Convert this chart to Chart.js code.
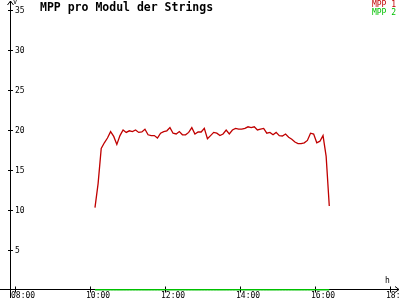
<!DOCTYPE html>
<html>
<head>
<meta charset="utf-8">
<script src="https://cdn.jsdelivr.net/npm/chart.js@4"></script>
<style>
  html, body { margin: 0; padding: 0; background: #fff; }
  #wrap { width: 400px; height: 300px; }
</style>
</head>
<body>
<div id="wrap"><canvas id="chart"></canvas></div>
<script>
// samples, every 5 minutes
const times = [
  '10:08','10:13','10:18','10:23','10:28','10:33','10:38','10:43','10:48','10:53','10:58',
  '11:03','11:08','11:13','11:18','11:23','11:28','11:33','11:38','11:43','11:48','11:53','11:58',
  '12:03','12:08','12:13','12:18','12:23','12:28','12:33','12:38','12:43','12:48','12:53','12:58',
  '13:03','13:08','13:13','13:18','13:23','13:28','13:33','13:38','13:43','13:48','13:53','13:58',
  '14:03','14:08','14:13','14:18','14:23','14:28','14:33','14:38','14:43','14:48','14:53','14:58',
  '15:03','15:08','15:13','15:18','15:23','15:28','15:33','15:38','15:43','15:48','15:53','15:58',
  '16:03','16:08','16:13','16:18','16:23'
];
const mpp1 = [
  10.3, 13.3, 17.7, 18.4, 19.0, 19.8, 19.2, 18.2, 19.3, 20.0, 19.7,
  19.9, 19.8, 20.0, 19.7, 19.75, 20.1, 19.4, 19.3, 19.3, 19.0, 19.6, 19.8,
  19.9, 20.3, 19.6, 19.5, 19.8, 19.4, 19.4, 19.7, 20.3, 19.5, 19.75, 19.75,
  20.2, 18.9, 19.3, 19.7, 19.6, 19.3, 19.5, 20.0, 19.5, 20.0, 20.2, 20.1,
  20.1, 20.2, 20.4, 20.3, 20.4, 20.0, 20.1, 20.2, 19.6, 19.7, 19.4, 19.7,
  19.3, 19.25, 19.5, 19.1, 18.85, 18.5, 18.3, 18.3, 18.4, 18.7, 19.6, 19.5,
  18.4, 18.6, 19.3, 16.7, 10.5
];
const mpp2 = [
  0, 0, 0, 0, 0, 0, 0, 0, 0, 0, 0,
  0, 0, 0, 0, 0, 0, 0, 0, 0, 0, 0, 0,
  0, 0, 0, 0, 0, 0, 0, 0, 0, 0, 0, 0,
  0, 0, 0, 0, 0, 0, 0, 0, 0, 0, 0, 0,
  0, 0, 0, 0, 0, 0, 0, 0, 0, 0, 0, 0,
  0, 0, 0, 0, 0, 0, 0, 0, 0, 0, 0, 0,
  0, 0, 0, 0, 0
];
const xTicks = ['08:00', '10:00', '12:00', '14:00', '16:00', '18:00'];
const yTicks = [5, 10, 15, 20, 25, 30, 35];
const seriesNames = ['MPP 1', 'MPP 2'];
const seriesColors = ['#c00000', '#00c000'];

function toMin(s) {
  const p = s.split(':');
  return Number(p[0]) * 60 + Number(p[1]);
}
function pts(vals) {
  return vals.map((v, i) => ({ x: toMin(times[i]), y: v }));
}

const axesPlugin = {
  id: 'axes',
  afterDatasetsDraw(chart) {
    const ctx = chart.ctx;
    const xs = chart.scales.x, ys = chart.scales.y;
    const ax = Math.round(xs.left) + 0.5;
    const ay = Math.round(ys.getPixelForValue(0)) - 0.5;
    ctx.save();
    ctx.strokeStyle = '#000';
    ctx.fillStyle = '#000';
    ctx.lineWidth = 1;
    ctx.beginPath();
    // y axis + arrow
    ctx.moveTo(ax, 298); ctx.lineTo(ax, 1);
    ctx.moveTo(ax - 3, 5); ctx.lineTo(ax, 1); ctx.lineTo(ax + 3, 5);
    // x axis + arrow
    ctx.moveTo(0, ay); ctx.lineTo(399, ay);
    ctx.moveTo(395, ay - 3); ctx.lineTo(399, ay); ctx.lineTo(395, ay + 3);
    yTicks.forEach(v => {
      const py = Math.round(ys.getPixelForValue(v)) + 0.5;
      ctx.moveTo(ax - 2.5, py); ctx.lineTo(ax + 2.5, py);
    });
    xTicks.forEach(t => {
      const px = Math.round(xs.getPixelForValue(toMin(t))) + 0.5;
      ctx.moveTo(px, ay - 3); ctx.lineTo(px, ay + 3);
    });
    ctx.stroke();

    // redraw MPP 2 over the axis
    ctx.strokeStyle = seriesColors[1];
    ctx.beginPath();
    ctx.moveTo(xs.getPixelForValue(toMin(times[0])), ay);
    ctx.lineTo(xs.getPixelForValue(toMin(times[times.length - 1])), ay);
    ctx.stroke();

    ctx.font = '8px "DejaVu Sans Mono"';
    ctx.textBaseline = 'middle';
    ctx.textAlign = 'left';
    yTicks.forEach(v => {
      ctx.fillText(String(v), ax + 4.5, Math.round(ys.getPixelForValue(v)) + 0.5);
    });
    ctx.textBaseline = 'top';
    xTicks.forEach(t => {
      ctx.fillText(t, Math.round(xs.getPixelForValue(toMin(t))) - 4, 292);
    });
    ctx.font = '7px "DejaVu Sans Mono"';
    ctx.fillText('V', 13, -1);
    ctx.font = '8px "DejaVu Sans Mono"';
    ctx.fillText('h', 385, 277);

    // title
    ctx.font = 'bold 11.5px "DejaVu Sans Mono"';
    ctx.fillText('MPP pro Modul der Strings', 40, 2);

    // legend
    ctx.font = '8px "DejaVu Sans Mono"';
    ctx.textAlign = 'right';
    seriesNames.forEach((n, i) => {
      ctx.fillStyle = seriesColors[i];
      ctx.fillText(n, 396, 1 + i * 8);
    });
    ctx.restore();
  }
};

new Chart(document.getElementById('chart'), {
  type: 'line',
  data: {
    datasets: [{
      label: seriesNames[0],
      data: pts(mpp1),
      borderColor: seriesColors[0],
      borderWidth: 1.3,
      pointRadius: 0,
      tension: 0,
      clip: false
    }, {
      label: seriesNames[1],
      data: pts(mpp2),
      borderColor: seriesColors[1],
      borderWidth: 1,
      pointRadius: 0,
      clip: false
    }]
  },
  options: {
    responsive: true,
    maintainAspectRatio: false,
    animation: false,
    layout: { padding: { left: 10, right: 2, top: 10, bottom: 10 } },
    plugins: { legend: { display: false }, title: { display: false }, tooltip: { enabled: false } },
    scales: {
      x: { type: 'linear', min: 472, max: 1093, display: false },
      y: { min: 0, max: 35, display: false }
    }
  },
  plugins: [axesPlugin]
});
</script>
</body>
</html>
